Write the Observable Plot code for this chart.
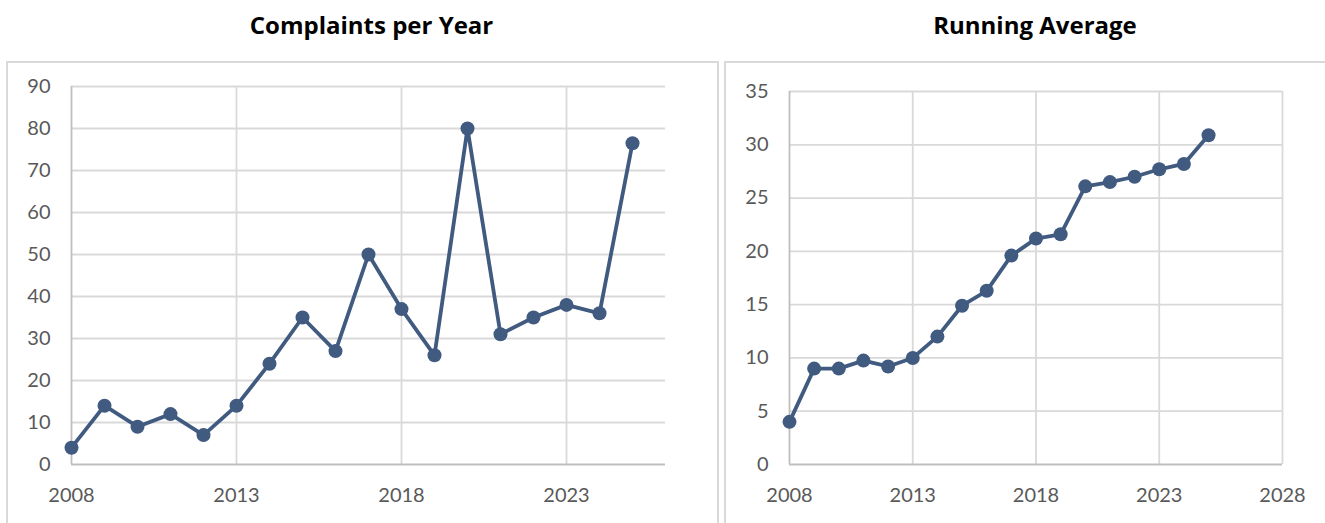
<!DOCTYPE html>
<html>
<head>
<meta charset="utf-8">
<script src="https://cdn.jsdelivr.net/npm/d3@7"></script>
<script src="https://cdn.jsdelivr.net/npm/@observablehq/plot@0.6"></script>
<style>
  html, body { margin: 0; padding: 0; background: #fff; width: 1325px; height: 523px; overflow: hidden; font-family: Lato, "Open Sans", sans-serif; }
  .box { position: absolute; border: 2px solid #d9d9d9; box-sizing: border-box; }
  .title { position: absolute; font-family: "Open Sans", Lato, sans-serif; font-weight: bold; font-size: 24px; line-height: 32px; color: #000; text-align: center; white-space: nowrap; }
  .chart { position: absolute; }
</style>
</head>
<body>
<div class="box" style="left:6px;top:61px;width:713px;height:480px;"></div>
<div class="box" style="left:724px;top:61px;width:620px;height:480px;"></div>
<div class="title" style="left:7px;width:729px;top:9px;">Complaints per Year</div>
<div class="title" style="left:725px;width:620px;top:9px;">Running Average</div>
<div class="chart" id="c1" style="left:7px;top:62px;"></div>
<div class="chart" id="c2" style="left:725px;top:62px;"></div>
<script>
const years = [2008, 2009, 2010, 2011, 2012, 2013, 2014, 2015, 2016, 2017, 2018, 2019, 2020, 2021, 2022, 2023, 2024, 2025];
const complaints = [4, 14, 9, 12, 7, 14, 24, 35, 27, 50, 37, 26, 80, 31, 35, 38, 36, 76.5];
const runningAvg = [4, 9, 9, 9.75, 9.2, 10, 12, 14.9, 16.3, 19.6, 21.2, 21.6, 26.1, 26.5, 27, 27.7, 28.2, 30.9];

const leftXTicks = [2008, 2013, 2018, 2023];
const leftYTicks = [0, 10, 20, 30, 40, 50, 60, 70, 80, 90];
const rightXTicks = [2008, 2013, 2018, 2023, 2028];
const rightYTicks = [0, 5, 10, 15, 20, 25, 30, 35];

const lineColor = "#405a80";
const gridColor = "#d9d9d9";
const axisColor = "#bfbfbf";
const textColor = "#595959";

const leftData = years.map((y, i) => ({year: y, value: complaints[i]}));
const rightData = years.map((y, i) => ({year: y, value: runningAvg[i]}));

function makeChart(data, opts) {
  return Plot.plot({
    width: opts.width,
    height: opts.height,
    marginLeft: opts.ml,
    marginRight: opts.mr,
    marginTop: opts.mt,
    marginBottom: opts.mb,
    style: {fontFamily: "Lato, 'Open Sans', sans-serif", fontSize: "20px", color: textColor, background: "transparent", overflow: "visible"},
    x: {domain: opts.xDomain, label: null},
    y: {domain: opts.yDomain, label: null},
    marks: [
      Plot.ruleY(opts.yTicks.filter(t => t !== 0), {stroke: gridColor, strokeWidth: 1.8, strokeOpacity: 1}),
      Plot.ruleX(opts.xTicks.filter(t => t !== opts.xDomain[0]), {stroke: gridColor, strokeWidth: 1.8, strokeOpacity: 1}),
      Plot.ruleX([opts.xDomain[0]], {stroke: axisColor, strokeWidth: 1.8}),
      Plot.ruleY([0], {stroke: axisColor, strokeWidth: 1.8}),
      Plot.line(data, {x: "year", y: "value", stroke: lineColor, strokeWidth: 3.8}),
      Plot.dot(data, {x: "year", y: "value", fill: lineColor, r: 7}),
      Plot.axisX({ticks: opts.xTicks, tickFormat: d => String(d), tickSize: 0, tickPadding: 23, fill: textColor, label: null}),
      Plot.axisY({ticks: opts.yTicks, tickSize: 0, tickPadding: 21, fill: textColor, label: null})
    ]
  });
}

document.getElementById("c1").appendChild(makeChart(leftData, {
  width: 711, height: 461, ml: 64, mr: 53, mt: 24, mb: 59,
  xDomain: [2008, 2026], xTicks: leftXTicks, yDomain: [0, 90], yTicks: leftYTicks
}));
document.getElementById("c2").appendChild(makeChart(rightData, {
  width: 600, height: 461, ml: 64, mr: 43, mt: 29, mb: 59,
  xDomain: [2008, 2028], xTicks: rightXTicks, yDomain: [0, 35], yTicks: rightYTicks
}));
</script>
</body>
</html>
